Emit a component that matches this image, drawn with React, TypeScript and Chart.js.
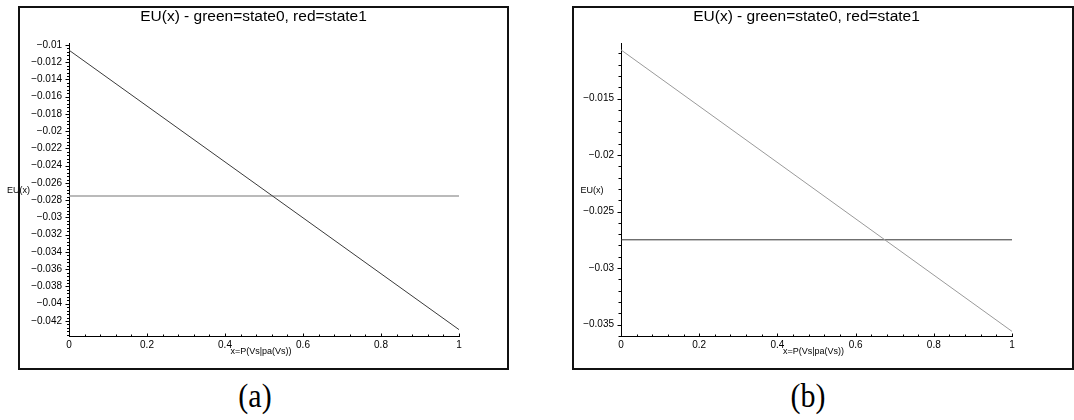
import React, { useEffect, useRef } from 'react';
import { Chart, registerables } from 'chart.js';

Chart.register(...registerables);

// ---------- data ----------
const titleText = 'EU(x) - green=state0, red=state1';
const yAxisLabel = 'EU(x)';
const xAxisLabel = 'x=P(Vs|pa(Vs))';

const xValues = [0, 1];
const xTickValues = [0, 0.2, 0.4, 0.6, 0.8, 1];
const xTickLabels = ['0', '0.2', '0.4', '0.6', '0.8', '1'];

// panel (a)
const aState0 = [-0.0106, -0.0430];
const aState1 = [-0.0275, -0.0275];
const aYTickValues = [
  -0.01, -0.012, -0.014, -0.016, -0.018, -0.02, -0.022, -0.024, -0.026,
  -0.028, -0.03, -0.032, -0.034, -0.036, -0.038, -0.04, -0.042,
];
const aYTickLabels = [
  '−0.01', '−0.012', '−0.014', '−0.016', '−0.018', '−0.02', '−0.022', '−0.024', '−0.026',
  '−0.028', '−0.03', '−0.032', '−0.034', '−0.036', '−0.038', '−0.04', '−0.042',
];
const aYRange = [-0.04374, -0.00977];

// panel (b)
const bState0 = [-0.0107, -0.0356];
const bState1 = [-0.0275, -0.0275];
const bYTickValues = [-0.015, -0.02, -0.025, -0.03, -0.035];
const bYTickLabels = ['−0.015', '−0.02', '−0.025', '−0.03', '−0.035'];
const bYRange = [-0.03601, -0.01009];

// ---------- plugin: axis labels + minor ticks ----------
const FONT = '"Liberation Sans", Arial, sans-serif';

function drawTicks(scale: any, step: number, majors: number[], ctx: CanvasRenderingContext2D, horizontal: boolean, o: any) {
  const min = scale.min;
  const max = scale.max;
  const k0 = Math.ceil(min / step - 1e-6);
  const k1 = Math.floor(max / step + 1e-6);
  for (let k = k0; k <= k1; k++) {
    const v = k * step;
    const p = Math.round(scale.getPixelForValue(v)) + 0.5;
    if (horizontal) {
      const y = Math.round(scale.top) + 0.5;
      ctx.moveTo(p, y);
      ctx.lineTo(p, y - o.xMinorLen);
    } else {
      const x = Math.round(scale.right) + 0.5;
      ctx.moveTo(x, p);
      ctx.lineTo(x - o.yMinorLen, p);
    }
  }
  majors.forEach((v) => {
    const p = Math.round(scale.getPixelForValue(v)) + 0.5;
    if (horizontal) {
      const y = Math.round(scale.top) + 0.5;
      ctx.moveTo(p, y);
      ctx.lineTo(p, y - o.xMajorLen);
    } else {
      const x = Math.round(scale.right) + 0.5;
      ctx.moveTo(x, p);
      ctx.lineTo(x - o.yMajorLen, p);
    }
  });
}

const decorPlugin = {
  id: 'decor',
  afterLayout(chart: any) {
    // let the y tick labels use the whole left margin (avoid label clipping)
    const y = chart.scales.y;
    if (y) y.left = 0;
  },
  afterDraw(chart: any, _args: any, o: any) {
    const { ctx, chartArea } = chart;
    ctx.save();
    ctx.strokeStyle = '#000';
    ctx.lineWidth = 1;
    ctx.beginPath();
    drawTicks(chart.scales.x, o.xStep, o.xMajors, ctx, true, o);
    drawTicks(chart.scales.y, o.yStep, o.yMajors, ctx, false, o);
    ctx.stroke();
    ctx.fillStyle = '#000';
    ctx.font = `9px ${FONT}`;
    ctx.textAlign = 'center';
    ctx.textBaseline = 'middle';
    ctx.fillText(o.yLabel, o.yLabelX, o.yLabelY);
    ctx.fillText(o.xLabel, (chartArea.left + chartArea.right) / 2 + o.xLabelDx, chartArea.bottom + o.xLabelDy);
    ctx.restore();
  },
};

function makeConfig(p: any) {
  return {
    type: 'line',
    data: {
      datasets: [
        {
          label: 'state0',
          data: xValues.map((x, i) => ({ x, y: p.s0[i] })),
          borderColor: p.c0,
          borderWidth: p.w0,
          pointRadius: 0,
          tension: 0,
          fill: false,
        },
        {
          label: 'state1',
          data: xValues.map((x, i) => ({ x, y: p.s1[i] })),
          borderColor: p.c1,
          borderWidth: p.w1,
          pointRadius: 0,
          tension: 0,
          fill: false,
        },
      ],
    },
    options: {
      animation: false,
      responsive: false,
      maintainAspectRatio: false,
      layout: { padding: { left: p.padLeft, right: 10, top: 0, bottom: 16 } },
      plugins: {
        legend: { display: false },
        tooltip: { enabled: false },
        title: {
          display: true,
          text: titleText,
          color: '#000',
          font: { family: FONT, size: 15.5, weight: 'normal', lineHeight: '18px' },
          padding: { top: 8, bottom: 17 },
        },
        decor: {
          xStep: 0.04,
          xMajors: xTickValues,
          yStep: p.yStep,
          yMajors: p.yTicks,
          xMinorLen: 2,
          xMajorLen: 3,
          yMinorLen: p.yMinorLen,
          yMajorLen: 4,
          yLabel: yAxisLabel,
          yLabelX: p.yLabelX,
          yLabelY: 191,
          xLabel: xAxisLabel,
          xLabelDx: -3,
          xLabelDy: 16,
        },
      },
      scales: {
        x: {
          type: 'linear',
          min: 0,
          max: 1,
          afterFit: (s: any) => { s.height = 20; },
          afterBuildTicks: (s: any) => { s.ticks = xTickValues.map((v) => ({ value: v })); },
          grid: { display: false, drawTicks: false },
          border: { display: true, color: '#000', width: 1 },
          ticks: {
            autoSkip: false,
            maxRotation: 0,
            padding: 3,
            color: '#000',
            font: { family: FONT, size: 10 },
            callback: (_v: any, i: number) => xTickLabels[i],
          },
        },
        y: {
          type: 'linear',
          min: p.yRange[0],
          max: p.yRange[1],
          afterFit: (s: any) => { s.width = p.yWidth; },
          afterBuildTicks: (s: any) => { s.ticks = p.yTicks.map((v: number) => ({ value: v })); },
          grid: { display: false, drawTicks: false },
          border: { display: true, color: '#000', width: 1 },
          ticks: {
            autoSkip: false,
            padding: 7,
            color: '#000',
            font: { family: FONT, size: 10 },
            callback: (_v: any, i: number) => p.yLabels[i],
          },
        },
      },
    },
    plugins: [decorPlugin],
  };
}

const configA = makeConfig({
  s0: aState0, s1: aState1,
  c0: '#3a3a3a', w0: 1, c1: '#a3a3a3', w1: 1.5,
  padLeft: 48, yWidth: 21,
  yRange: aYRange, yTicks: aYTickValues, yLabels: aYTickLabels,
  yStep: 0.0004, yMinorLen: 2.5, yLabelX: 18.5,
});

const configB = makeConfig({
  s0: bState0, s1: bState1,
  c0: '#9a9a9a', w0: 1, c1: '#333333', w1: 1,
  padLeft: 64, yWidth: 20,
  yRange: bYRange, yTicks: bYTickValues, yLabels: bYTickLabels,
  yStep: 0.001, yMinorLen: 3, yLabelX: 55,
});

function Panel({ config, left, width, height }: any) {
  const ref = useRef<HTMLCanvasElement>(null);
  useEffect(() => {
    const chart = new Chart(ref.current as HTMLCanvasElement, config);
    return () => chart.destroy();
  }, [config]);
  return (
    <canvas
      ref={ref}
      width={width}
      height={height}
      style={{ position: 'absolute', left, top: 0, width, height }}
    />
  );
}

const boxStyle = (left: number, width: number): React.CSSProperties => ({
  position: 'absolute',
  left,
  top: 6,
  width,
  height: 364,
  border: '2px solid #111',
  boxSizing: 'border-box',
  pointerEvents: 'none',
});

const capStyle = (cx: number): React.CSSProperties => ({
  position: 'absolute',
  left: cx - 40,
  top: 378,
  width: 80,
  textAlign: 'center',
  fontFamily: '"Liberation Serif", "DejaVu Serif", serif',
  fontSize: 30,
  lineHeight: '36px',
  color: '#000',
  transform: 'scaleY(1.12)',
});

export default function App() {
  return (
    <div style={{ position: 'absolute', left: 0, top: 0, width: 1074, height: 420, background: '#fff', overflow: 'hidden' }}>
      <Panel config={configA} left={0} width={469} height={372} />
      <Panel config={configB} left={537} width={485} height={372} />
      <div style={boxStyle(18, 491)} />
      <div style={boxStyle(572, 502)} />
      <div style={capStyle(255)}>(a)</div>
      <div style={capStyle(808)}>(b)</div>
    </div>
  );
}
